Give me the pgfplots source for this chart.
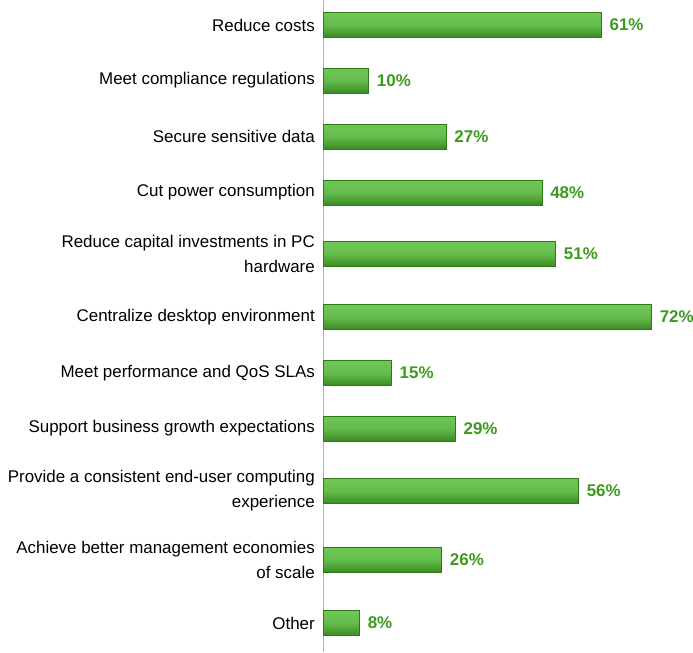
\documentclass[border=0pt]{standalone}
\usepackage{fontspec}
\setmainfont{Liberation Sans}
\usepackage{pgfplots}
\pgfplotsset{compat=1.18}

\definecolor{bartop}{HTML}{6FC855}
\definecolor{barbot}{HTML}{3A8A24}
\definecolor{baredge}{HTML}{2E7A18}
\definecolor{valgreen}{HTML}{3C9A1F}

\pgfplotsset{
    greenbar/.style={draw=baredge, line width=0.6pt,
        top color=bartop, bottom color=barbot, middle color=bartop!80!barbot},
}

\begin{document}
\begin{tikzpicture}
\begin{axis}[
    name=ax,
    scale only axis,
    width=370bp, height=652bp,
    xmin=0, xmax=81.1,
    ymin=0, ymax=652, y dir=reverse,
    xbar, bar width=25bp, bar shift=0pt,
    axis x line=none,
    axis y line*=left,
    y axis line style={draw=black!30, line width=1pt},
    ytick={25,80.5,136.5,192.5,254,317,373,428.5,491,560,623},
    yticklabels={
        Reduce costs,
        Meet compliance regulations,
        Secure sensitive data,
        Cut power consumption,
        {Reduce capital investments in PC\\hardware},
        Centralize desktop environment,
        Meet performance and QoS SLAs,
        Support business growth expectations,
        {Provide a consistent end-user computing\\experience},
        {Achieve better management economies\\of scale},
        Other},
    major tick length=0pt,
    ytick style={draw=none},
    yticklabel style={font=\fontsize{17}{25}\selectfont, align=right,
        inner sep=0pt, xshift=-8bp, text=black},
    /pgf/number format/assume math mode=true,
    point meta=x,
    nodes near coords={\pgfmathprintnumber{\pgfplotspointmeta}\%},
    nodes near coords style={font=\fontsize{17}{20}\selectfont\bfseries,
        text=valgreen, anchor=west, inner sep=0pt, xshift=8bp},
    clip=false,
    cycle list={{greenbar}},
]
% one plot per bar so each bar gets its own top-to-bottom shading
\addplot coordinates {(61,25)};
\addplot coordinates {(10,80.5)};
\addplot coordinates {(27,136.5)};
\addplot coordinates {(48,192.5)};
\addplot coordinates {(51,254)};
\addplot coordinates {(72,317)};
\addplot coordinates {(15,373)};
\addplot coordinates {(29,428.5)};
\addplot coordinates {(56,491)};
\addplot coordinates {(26,560)};
\addplot coordinates {(8,623)};
\end{axis}
\pgfresetboundingbox
\path[use as bounding box] ([xshift=-323bp]ax.south west) rectangle (ax.north east);
\end{tikzpicture}
\end{document}
